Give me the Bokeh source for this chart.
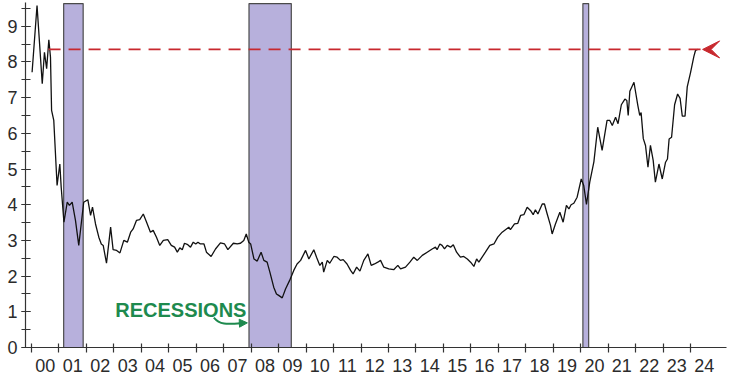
from bokeh.plotting import figure
from bokeh.models import Range1d, FixedTicker, CustomJSTickFormatter, Arrow, VeeHead, NormalHead, Label
from bokeh.embed import file_html
from bokeh.resources import INLINE

# ---- data ----
years = [2000.02, 2000.20, 2000.39, 2000.47, 2000.55, 2000.63, 2000.69, 2000.73, 2000.81, 2000.93,
         2001.03, 2001.08, 2001.18, 2001.30, 2001.38, 2001.48, 2001.60, 2001.72, 2001.90,
         2002.05, 2002.15, 2002.22, 2002.33, 2002.45, 2002.54, 2002.61, 2002.73, 2002.88, 2002.97,
         2003.10, 2003.22, 2003.36, 2003.49, 2003.61, 2003.70, 2003.82, 2003.94,
         2004.07, 2004.19, 2004.33, 2004.43, 2004.55, 2004.67, 2004.80, 2004.96,
         2005.09, 2005.21, 2005.31, 2005.40, 2005.49, 2005.57, 2005.69, 2005.79, 2005.89, 2005.98,
         2006.06, 2006.15, 2006.28, 2006.37, 2006.54, 2006.70, 2006.88,
         2007.03, 2007.15, 2007.35, 2007.49, 2007.61, 2007.73, 2007.82, 2007.91, 2007.98,
         2008.10, 2008.22, 2008.36, 2008.46, 2008.58, 2008.68, 2008.82, 2008.92,
         2009.00, 2009.13, 2009.25, 2009.40, 2009.55, 2009.67, 2009.80, 2009.98,
         2010.10, 2010.28, 2010.38, 2010.50, 2010.59, 2010.64, 2010.77, 2010.86,
         2011.01, 2011.13, 2011.25, 2011.35, 2011.49, 2011.62, 2011.71, 2011.84, 2011.96,
         2012.10, 2012.25, 2012.37, 2012.49, 2012.61, 2012.71, 2012.83,
         2013.01, 2013.19, 2013.34, 2013.44, 2013.62, 2013.78, 2013.92,
         2014.05, 2014.23, 2014.41, 2014.59, 2014.71, 2014.77, 2014.87, 2014.95,
         2015.04, 2015.14, 2015.26, 2015.36, 2015.48, 2015.62, 2015.74, 2015.87, 2015.99,
         2016.11, 2016.21, 2016.29, 2016.41, 2016.53, 2016.69, 2016.84, 2016.98,
         2017.14, 2017.26, 2017.38, 2017.44, 2017.59, 2017.71, 2017.81, 2017.93,
         2018.05, 2018.17, 2018.27, 2018.35, 2018.44, 2018.60, 2018.68, 2018.78, 2018.90, 2018.96,
         2019.08, 2019.24, 2019.36, 2019.48, 2019.57, 2019.65, 2019.75, 2019.87,
         2020.02, 2020.11, 2020.21, 2020.33, 2020.48, 2020.62, 2020.78, 2020.96,
         2021.06, 2021.15, 2021.27, 2021.36, 2021.48, 2021.61, 2021.68, 2021.73, 2021.79, 2021.94,
         2022.08, 2022.15, 2022.20, 2022.28, 2022.36, 2022.45, 2022.54, 2022.64, 2022.72, 2022.85, 2022.97,
         2023.09, 2023.16, 2023.22, 2023.31, 2023.42, 2023.53, 2023.62, 2023.70, 2023.80, 2023.88,
         2024.00, 2024.12, 2024.18, 2024.26]
values = [7.71, 9.58, 7.39, 8.27, 7.81, 8.62, 8.13, 6.64, 6.36, 4.54,
          5.14, 4.49, 3.51, 4.07, 3.98, 4.07, 3.56, 2.86, 4.07,
          4.14, 3.70, 3.93, 3.46, 3.09, 2.90, 2.86, 2.36, 3.37, 2.74,
          2.72, 2.65, 3.00, 2.95, 3.23, 3.32, 3.56, 3.58,
          3.74, 3.51, 3.23, 3.28, 3.09, 2.86, 3.00, 3.02,
          2.86, 2.81, 2.67, 2.79, 2.74, 2.92, 2.88, 2.81, 2.95, 2.90,
          2.95, 2.90, 2.90, 2.67, 2.55, 2.76, 2.93,
          2.90, 2.74, 2.92, 2.90, 2.92, 3.00, 3.18, 2.95, 2.90,
          2.48, 2.42, 2.67, 2.44, 2.39, 2.11, 1.69, 1.50,
          1.46, 1.39, 1.64, 1.88, 2.16, 2.34, 2.44, 2.72,
          2.48, 2.74, 2.53, 2.30, 2.39, 2.11, 2.44, 2.36,
          2.55, 2.53, 2.44, 2.46, 2.34, 2.16, 2.06, 2.25, 2.14,
          2.44, 2.62, 2.30, 2.34, 2.39, 2.44, 2.25,
          2.20, 2.18, 2.30, 2.20, 2.25, 2.39, 2.53,
          2.44, 2.58, 2.67, 2.76, 2.81, 2.74, 2.90, 2.86,
          2.76, 2.86, 2.81, 2.88, 2.67, 2.53, 2.55, 2.48, 2.39,
          2.27, 2.48, 2.39, 2.53, 2.67, 2.86, 2.90, 3.09,
          3.23, 3.30, 3.37, 3.30, 3.46, 3.48, 3.70, 3.72,
          3.93, 3.84, 3.72, 3.86, 3.74, 4.02, 4.02, 3.74, 3.42, 3.18,
          3.46, 3.79, 3.51, 3.98, 3.88, 4.00, 4.04, 4.21,
          4.72, 4.54, 4.01, 4.63, 5.20, 6.17, 5.52, 6.36,
          6.36, 6.22, 6.45, 6.27, 6.80, 6.96, 6.92, 6.50, 7.18, 7.43,
          6.78, 6.50, 6.58, 5.85, 5.66, 5.05, 5.66, 5.24, 4.63, 5.14, 4.72,
          5.19, 5.28, 5.84, 5.89, 6.80, 7.10, 6.98, 6.48, 6.48, 7.30,
          7.70, 8.15, 8.32, 8.35]

rec_start = [2001.17, 2007.92, 2020.08]
rec_end = [2001.88, 2009.46, 2020.29]

x_labels = ["00", "01", "02", "03", "04", "05", "06", "07", "08", "09", "10", "11", "12",
            "13", "14", "15", "16", "17", "18", "19", "20", "21", "22", "23", "24"]
first_year = 2000
y_ticks = [0, 1, 2, 3, 4, 5, 6, 7, 8, 9]

dash_start = 2000.62
arrow_tip = 2024.44

# ---- styles ----
RED = "#c8282e"
GREEN = "#1e8a4e"
FONT = "Liberation Sans"
AXIS = "#333333"

x_lo, x_hi = 1999.78, 2025.31
y_lo, y_hi = 0, 9.664

p = figure(width=732, height=377, output_backend="svg", toolbar_location=None,
           x_range=Range1d(x_lo, x_hi), y_range=Range1d(y_lo, y_hi),
           min_border_left=25, min_border_right=6, min_border_top=2, min_border_bottom=30)
p.outline_line_color = None
p.grid.visible = False
p.background_fill_color = "white"

# recession bars
p.quad(left=rec_start, right=rec_end, bottom=0, top=y_hi - 0.03,
       fill_color="#b7b0dc", fill_alpha=1.0, line_color="#4a4a4a", line_width=1.2)

# series line
p.line(years, values, line_color="#111111", line_width=1.3)

# current level dashed line + arrowhead
cur = values[-1]
p.line([dash_start, arrow_tip], [cur, cur], line_color=RED, line_width=1.7, line_dash="12 8")
p.add_layout(Arrow(end=VeeHead(size=17, fill_color=RED, line_color=RED, line_width=1),
                   x_start=x_hi - 0.02, y_start=cur, x_end=arrow_tip, y_end=cur,
                   line_alpha=0, line_width=0))

# RECESSIONS label + curved arrow
p.add_layout(Label(x=2003.05, y=1.04, text="RECESSIONS", text_font=FONT, text_font_style="bold",
                   text_font_size="20px", text_color=GREEN, text_baseline="alphabetic"))
p.bezier(x0=[2006.64], y0=[0.84], x1=[2007.62], y1=[0.68],
         cx0=[2006.85], cy0=[0.64], cx1=[2007.1], cy1=[0.65],
         line_color=GREEN, line_width=2)
p.add_layout(Arrow(end=NormalHead(size=8, fill_color=GREEN, line_color=GREEN, line_width=1),
                   x_start=2007.55, y_start=0.68, x_end=2007.86, y_end=0.69,
                   line_color=GREEN, line_width=2))

# x axis: labels centred on years, ticks at year boundaries
xa = p.xaxis[0]
xa.ticker = FixedTicker(ticks=[first_year + i + 0.5 for i in range(len(x_labels))],
                        minor_ticks=[first_year + i for i in range(len(x_labels))])
xa.formatter = CustomJSTickFormatter(args=dict(labels=x_labels, first=first_year),
                                     code="const i = Math.floor(tick) - first; return labels[i] || '';")
xa.major_tick_in = 0
xa.major_tick_out = 0
xa.minor_tick_in = 4
xa.minor_tick_out = 5
xa.major_label_standoff = 6

ya = p.yaxis[0]
ya.ticker = FixedTicker(ticks=y_ticks, minor_ticks=[t * 0.5 for t in range(0, 20)])
ya.major_tick_in = 5
ya.major_tick_out = 4
ya.minor_tick_in = 5
ya.minor_tick_out = 4
ya.major_label_standoff = 4

for ax in (xa, ya):
    ax.axis_line_color = AXIS
    ax.axis_line_width = 1.2
    ax.major_tick_line_color = AXIS
    ax.minor_tick_line_color = AXIS
    ax.major_tick_line_width = 1.2
    ax.minor_tick_line_width = 1.2
    ax.major_label_text_font = FONT
    ax.major_label_text_font_size = "18px"
    ax.major_label_text_color = "#2b2b2b"

open("out.html", "w").write(file_html(p, INLINE))
